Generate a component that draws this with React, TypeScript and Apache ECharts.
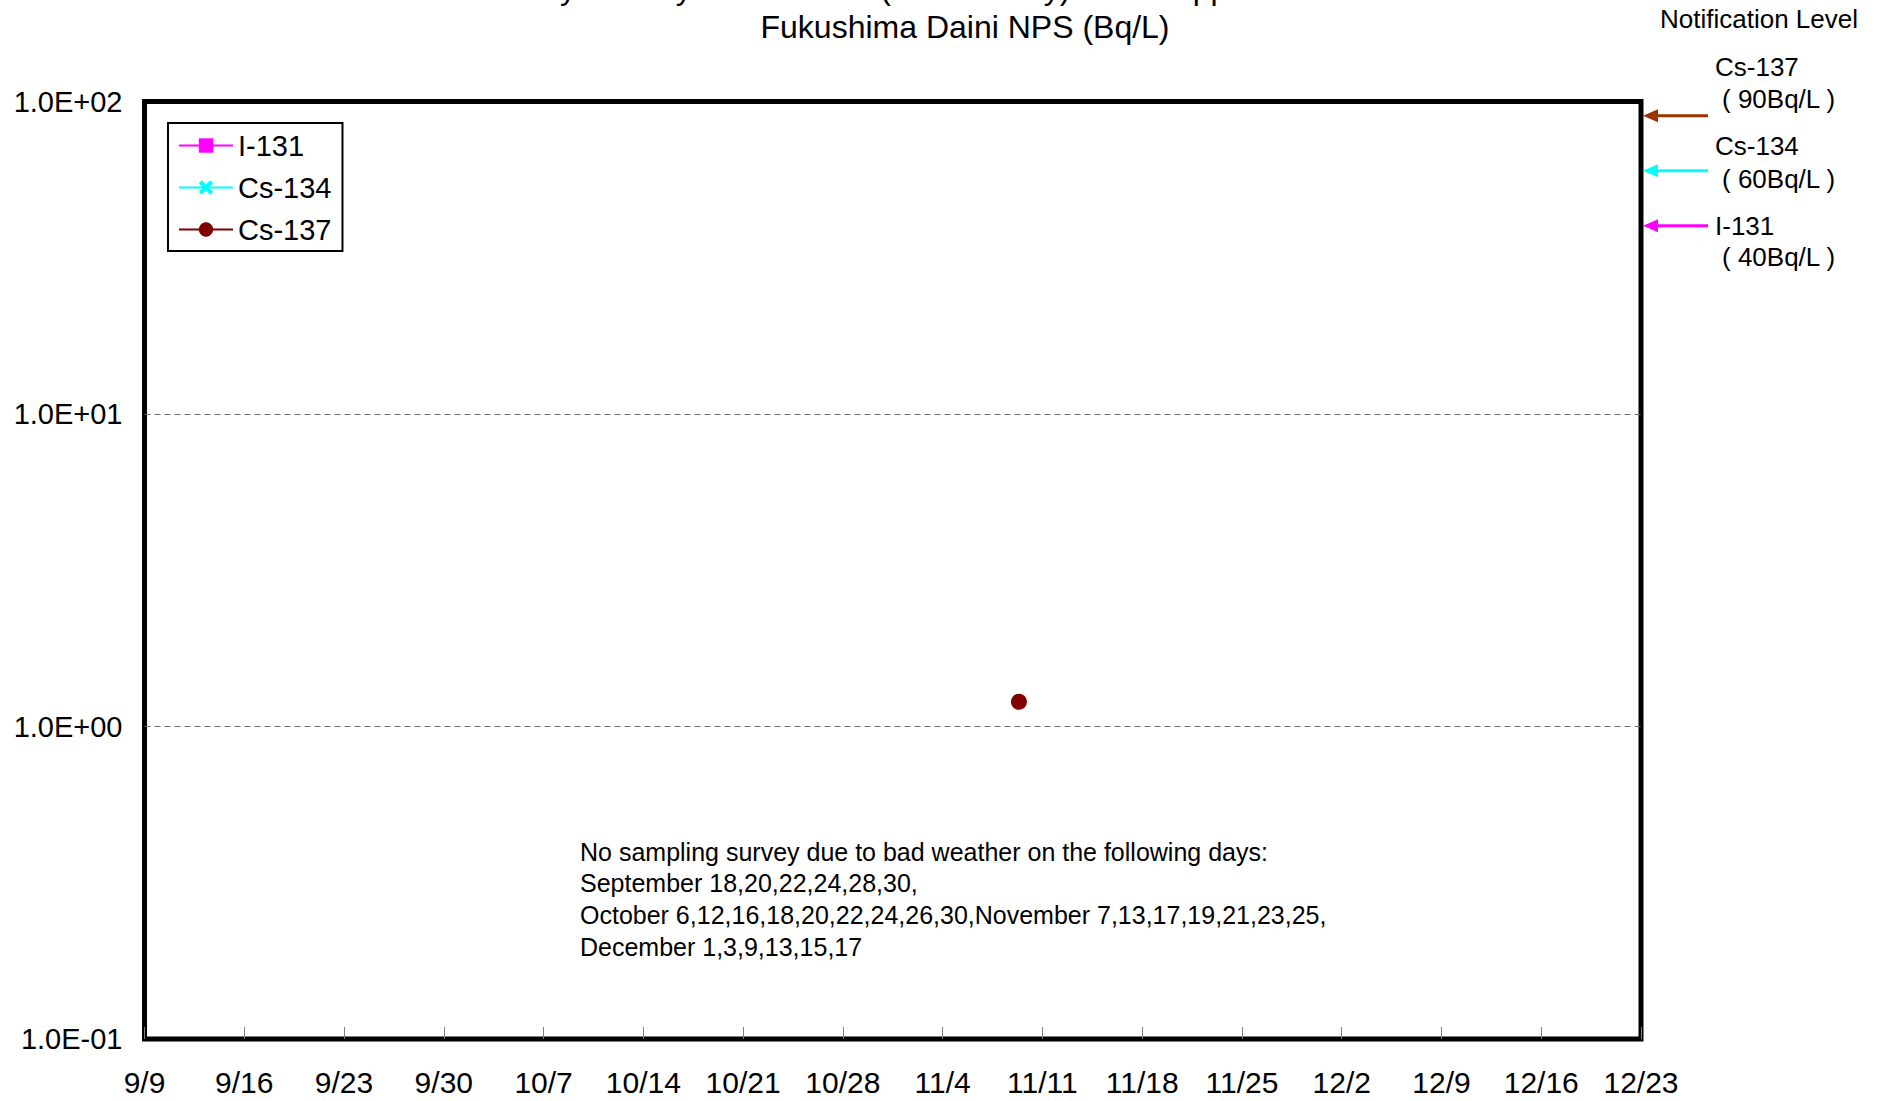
import React, { useEffect, useRef } from "react";
import * as echarts from "echarts";

const FONT = '"Liberation Sans", Arial, Helvetica, sans-serif';

// Tick labels
const xTickLabels = ["9/9", "9/16", "9/23", "9/30", "10/7", "10/14", "10/21", "10/28", "11/4", "11/11", "11/18", "11/25", "12/2", "12/9", "12/16", "12/23"];
const yTickLabels = ["1.0E-01", "1.0E+00", "1.0E+01", "1.0E+02"];

// Series (sampling date and time, value in Bq/L)
const seriesNames = ["I-131", "Cs-134", "Cs-137"];
const seriesColors = ["#FF00FF", "#00FFFF", "#800000"];
const i131Dates: string[] = [];
const i131Values: number[] = [];
const cs134Dates: string[] = [];
const cs134Values: number[] = [];
const cs137Dates = ["11/9 8:30"];
const cs137Values = [1.2];

// Notification levels (Bq/L)
const notificationNames = ["Cs-137", "Cs-134", "I-131"];
const notificationValues = [90, 60, 40];
const notificationColors = ["#993300", "#00FFFF", "#FF00FF"];

const titleLines = [
  "Radioactivity Density of Seawater (Gamma-ray) Taken Approx. 10km Offshore of",
  "Fukushima Daini NPS (Bq/L)",
];

const noteLines = [
  "No sampling survey due to bad weather on the following days:",
  "September 18,20,22,24,28,30,",
  "October 6,12,16,18,20,22,24,26,30,November 7,13,17,19,21,23,25,",
  "December 1,3,9,13,15,17",
];

const START = Date.UTC(2013, 8, 9);
function dayIndex(s: string): number {
  const [md, hm = "0:00"] = s.split(" ");
  const [m, d] = md.split("/").map(Number);
  const [hh, mm] = hm.split(":").map(Number);
  return (Date.UTC(2013, m - 1, d, hh, mm) - START) / 86400000;
}

const X_SYMBOL = "path://M0,2L2,0L5,3L8,0L10,2L7,5L10,8L8,10L5,7L2,10L0,8L3,5Z";

export default function App() {
  const ref = useRef<HTMLDivElement>(null);
  useEffect(() => {
    if (!ref.current) return;
    const chart = echarts.init(ref.current, null, { renderer: "svg" });
    const mk = (dates: string[], vals: number[]) => dates.map((d, i) => [dayIndex(d), vals[i]]);
    const dataSets = [mk(i131Dates, i131Values), mk(cs134Dates, cs134Values), mk(cs137Dates, cs137Values)];
    const symbols = ["rect", X_SYMBOL, "circle"];
    const lastDay = (xTickLabels.length - 1) * 7;

    chart.setOption({
      animation: false,
      backgroundColor: "#fff",
      grid: {
        left: 144.5,
        right: 245,
        top: 101.5,
        bottom: 62,
        show: true,
        borderColor: "#000",
        borderWidth: 5,
        backgroundColor: "transparent",
      },
      legend: {
        orient: "vertical",
        left: 168,
        top: 123,
        itemWidth: 54,
        itemHeight: 18,
        itemGap: 13,
        padding: [8, 11, 7, 10],
        borderColor: "#000",
        borderWidth: 2,
        backgroundColor: "#fff",
        textStyle: { fontSize: 29, lineHeight: 29, color: "#000", fontFamily: FONT },
        data: seriesNames,
      },
      xAxis: {
        type: "value",
        min: 0,
        max: lastDay,
        interval: 7,
        axisLine: { show: false },
        axisTick: { show: true, inside: true, length: 12, lineStyle: { color: "#808080", width: 1 } },
        axisLabel: {
          fontSize: 30,
          color: "#000",
          fontFamily: FONT,
          margin: 28,
          showMinLabel: true,
          showMaxLabel: true,
          formatter: (v: number) => xTickLabels[Math.round(v / 7)] ?? "",
        },
        splitLine: { show: false },
      },
      yAxis: {
        type: "log",
        logBase: 10,
        min: 0.1,
        max: 100,
        axisLine: { show: false },
        axisTick: { show: false },
        axisLabel: {
          fontSize: 29,
          color: "#000",
          fontFamily: FONT,
          margin: 22,
          formatter: (v: number) => yTickLabels[Math.round(Math.log10(v)) + 1] ?? "",
        },
        splitLine: {
          show: true,
          showMinLine: false,
          showMaxLine: false,
          lineStyle: { color: "#6f6f6f", width: 1, type: [6, 4] },
        },
        minorTick: { show: false },
      },
      series: seriesNames.map((name, i) => ({
        name,
        type: "line",
        data: dataSets[i],
        symbol: symbols[i],
        symbolSize: 16,
        showSymbol: true,
        itemStyle: { color: seriesColors[i] },
        lineStyle: { color: seriesColors[i], width: 2 },
        z: 5,
      })),
    });

    const graphics: any[] = [];
    const textStyle = (text: string, x: number, y: number, size: number, align = "left") => ({
      type: "text",
      z: 20,
      style: {
        text,
        x,
        y,
        fill: "#000",
        fontSize: size,
        fontFamily: FONT,
        align,
        verticalAlign: "middle",
      },
    });
    graphics.push(textStyle(titleLines[0], 965, -12, 32, "center"));
    graphics.push(textStyle(titleLines[1], 965, 27, 32, "center"));
    graphics.push(textStyle("Notification Level", 1660, 19, 26));

    const labelY = [
      [67, 99],
      [146, 179],
      [226, 257],
    ];
    notificationValues.forEach((v, i) => {
      const p = chart.convertToPixel({ gridIndex: 0 }, [lastDay, v]) as number[];
      const tipX = p[0] + 2;
      const y = p[1];
      graphics.push({
        type: "line",
        z: 20,
        shape: { x1: tipX + 12, y1: y, x2: 1708, y2: y },
        style: { stroke: notificationColors[i], lineWidth: 3 },
      });
      graphics.push({
        type: "polygon",
        z: 20,
        shape: { points: [[tipX, y], [tipX + 15, y - 6.5], [tipX + 15, y + 6.5]] },
        style: { fill: notificationColors[i] },
      });
      graphics.push(textStyle(notificationNames[i], 1715, labelY[i][0], 26));
      graphics.push(textStyle(`( ${v}Bq/L )`, 1722, labelY[i][1], 26));
    });

    graphics.push({
      type: "text",
      z: 20,
      style: {
        text: noteLines.join("\n"),
        x: 580,
        y: 836,
        fill: "#000",
        fontSize: 25,
        fontFamily: FONT,
        lineHeight: 31.6,
        align: "left",
        verticalAlign: "top",
      },
    });

    chart.setOption({ graphic: graphics });

    return () => chart.dispose();
  }, []);

  return (
    <div
      ref={ref}
      style={{ position: "fixed", left: 0, top: 0, width: 1886, height: 1101, background: "#fff" }}
    />
  );
}
